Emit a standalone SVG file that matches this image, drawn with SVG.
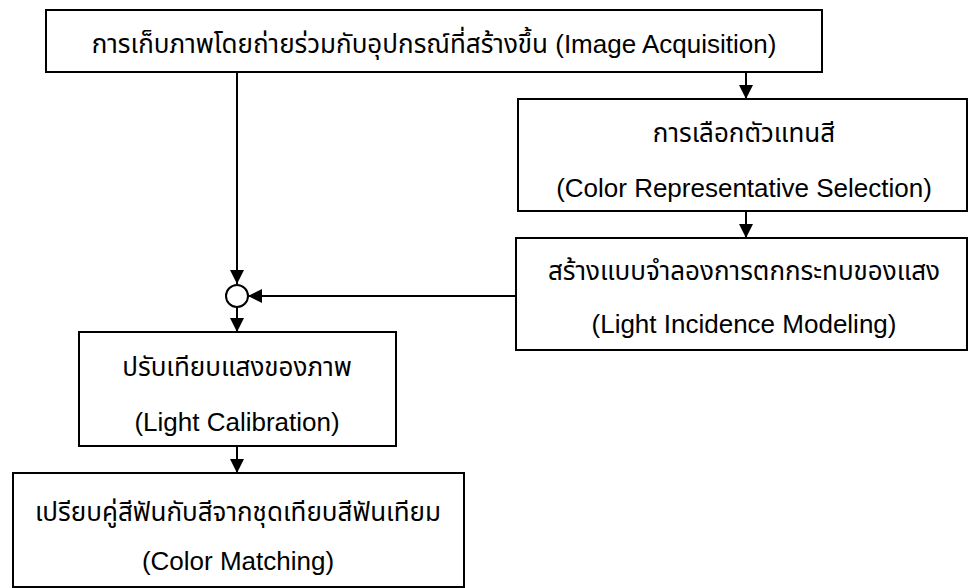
<svg xmlns="http://www.w3.org/2000/svg" width="969" height="588" viewBox="0 0 969 588">
<style>
  .box { fill: #ffffff; stroke: #000000; stroke-width: 2; }
  .conn { fill: none; stroke: #000000; stroke-width: 2; }
  text { font-family: "Liberation Sans", "Noto Sans Thai", "Loma", "Garuda", "Norasi", "DejaVu Sans", sans-serif; font-size: 26px; fill: #000000; text-anchor: middle; }
</style>
<defs>
  <marker id="arrow" markerUnits="userSpaceOnUse" markerWidth="14" markerHeight="14" viewBox="0 0 14 14" refX="14" refY="7" orient="auto">
    <path d="M0,0 L14,7 L0,14 Z" fill="#000000"/>
  </marker>
</defs>
<rect width="969" height="588" fill="#ffffff"/>
<g id="connectors">
  <line class="conn" x1="237" y1="72" x2="237" y2="284" marker-end="url(#arrow)"/>
  <line class="conn" x1="746" y1="72" x2="746" y2="99" marker-end="url(#arrow)"/>
  <line class="conn" x1="746" y1="211" x2="746" y2="238" marker-end="url(#arrow)"/>
  <line class="conn" x1="516" y1="296" x2="248" y2="296" marker-end="url(#arrow)"/>
  <line class="conn" x1="237" y1="307" x2="237" y2="332" marker-end="url(#arrow)"/>
  <line class="conn" x1="237" y1="446" x2="237" y2="473" marker-end="url(#arrow)"/>
</g>
<g id="image-acquisition">
  <rect class="box" x="46" y="10" width="776" height="62"/>
  <text x="434" y="53">การเก็บภาพโดยถ่ายร่วมกับอุปกรณ์ที่สร้างขึ้น (Image Acquisition)</text>
</g>
<g id="color-representative-selection">
  <rect class="box" x="518" y="99" width="449" height="112"/>
  <text x="744" y="142">การเลือกตัวแทนสี</text>
  <text x="744" y="197">(Color Representative Selection)</text>
</g>
<g id="light-incidence-modeling">
  <rect class="box" x="516" y="238" width="451" height="112"/>
  <text x="744" y="280">สร้างแบบจำลองการตกกระทบของแสง</text>
  <text x="744" y="333">(Light Incidence Modeling)</text>
</g>
<g id="junction">
  <circle class="box" cx="237" cy="296" r="11"/>
</g>
<g id="light-calibration">
  <rect class="box" x="79" y="332" width="317" height="114"/>
  <text x="237" y="376">ปรับเทียบแสงของภาพ</text>
  <text x="237" y="431">(Light Calibration)</text>
</g>
<g id="color-matching">
  <rect class="box" x="13" y="473" width="451" height="114"/>
  <text x="238" y="521">เปรียบคู่สีฟันกับสีจากชุดเทียบสีฟันเทียม</text>
  <text x="238" y="570">(Color Matching)</text>
</g>
</svg>
